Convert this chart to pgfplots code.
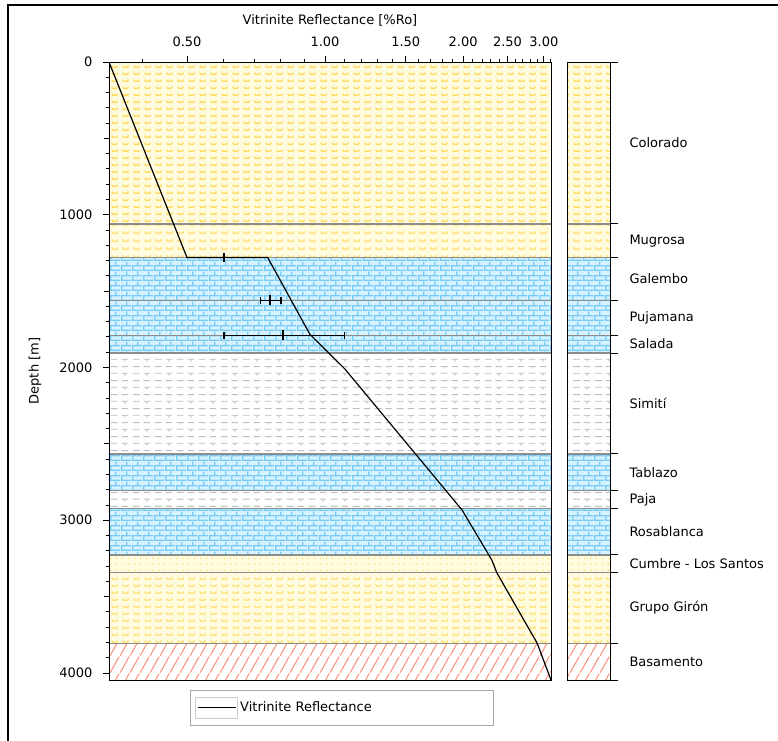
\documentclass[border=0pt]{standalone}
\usepackage{fontspec}
\setmainfont{DejaVu Sans}
\usepackage{pgfplots}
\pgfplotsset{compat=1.18}
\usetikzlibrary{patterns}

\definecolor{ybg}{RGB}{255,251,222}
\definecolor{ymk}{RGB}{255,216,85}
\definecolor{bbg}{RGB}{214,242,255}
\definecolor{bmk}{RGB}{118,204,246}
\definecolor{gmk}{RGB}{190,190,190}
\definecolor{rmk}{RGB}{250,145,125}
\definecolor{bnd}{RGB}{140,140,140}

\pgfdeclarepatternformonly{claystone}{\pgfpoint{0bp}{0bp}}{\pgfpoint{11bp}{7.4bp}}{\pgfpoint{11bp}{7.4bp}}{%
  \pgfsetlinewidth{1.2bp}%
  \pgfpathmoveto{\pgfpoint{2bp}{4.8bp}}%
  \pgfpathlineto{\pgfpoint{2.6bp}{3bp}}%
  \pgfpathlineto{\pgfpoint{7.4bp}{3bp}}%
  \pgfpathlineto{\pgfpoint{8bp}{4.8bp}}%
  \pgfusepath{stroke}}
\pgfdeclarepatternformonly{limestone}{\pgfpoint{0bp}{0bp}}{\pgfpoint{11bp}{10bp}}{\pgfpoint{11bp}{10bp}}{%
  \pgfsetlinewidth{1.4bp}%
  \pgfpathmoveto{\pgfpoint{0bp}{0.7bp}}\pgfpathlineto{\pgfpoint{11bp}{0.7bp}}%
  \pgfpathmoveto{\pgfpoint{0bp}{5.7bp}}\pgfpathlineto{\pgfpoint{11bp}{5.7bp}}%
  \pgfpathmoveto{\pgfpoint{0.7bp}{0.7bp}}\pgfpathlineto{\pgfpoint{0.7bp}{5.7bp}}%
  \pgfpathmoveto{\pgfpoint{6.2bp}{5.7bp}}\pgfpathlineto{\pgfpoint{6.2bp}{10bp}}%
  \pgfusepath{stroke}}
\pgfdeclarepatternformonly{shale}{\pgfpoint{0bp}{0bp}}{\pgfpoint{22bp}{14bp}}{\pgfpoint{22bp}{14bp}}{%
  \pgfsetlinewidth{1bp}%
  \pgfpathmoveto{\pgfpoint{1bp}{11bp}}\pgfpathlineto{\pgfpoint{8bp}{11bp}}%
  \pgfpathmoveto{\pgfpoint{12bp}{11bp}}\pgfpathlineto{\pgfpoint{19bp}{11bp}}%
  \pgfpathmoveto{\pgfpoint{1bp}{4bp}}\pgfpathlineto{\pgfpoint{8bp}{4bp}}%
  \pgfpathmoveto{\pgfpoint{12bp}{4bp}}\pgfpathlineto{\pgfpoint{19bp}{4bp}}%
  \pgfpathmoveto{\pgfpoint{15.5bp}{4bp}}\pgfpathlineto{\pgfpoint{15.5bp}{1.5bp}}%
  \pgfusepath{stroke}}
\pgfdeclarepatternformonly{sandstone}{\pgfpoint{0bp}{0bp}}{\pgfpoint{6bp}{6bp}}{\pgfpoint{6bp}{6bp}}{%
  \pgfpathcircle{\pgfpoint{3bp}{3bp}}{0.8bp}%
  \pgfusepath{fill}}
\pgfdeclarepatternformonly{basement}{\pgfpoint{0bp}{0bp}}{\pgfpoint{10bp}{17bp}}{\pgfpoint{10bp}{17bp}}{%
  \pgfsetlinewidth{1.1bp}%
  \pgfpathmoveto{\pgfpoint{0bp}{0bp}}\pgfpathlineto{\pgfpoint{10bp}{17bp}}%
  \pgfusepath{stroke}}

\tikzset{
  clay/.style={fill=ybg, postaction={pattern=claystone, pattern color=ymk}},
  lime/.style={fill=bbg, postaction={pattern=limestone, pattern color=bmk}},
  shl/.style={fill=white, postaction={pattern=shale, pattern color=gmk}},
  sand/.style={fill=ybg, postaction={pattern=sandstone, pattern color=ymk}},
  base/.style={fill=white, postaction={pattern=basement, pattern color=rmk}},
}

\newcommand\f{\fontsize{13bp}{15bp}\selectfont}
% one layer: xleft, xright, top, bottom, style
\newcommand\lay[5]{\addplot[forget plot, draw=none, #5] coordinates {(#1,#3) (#2,#3) (#2,#4) (#1,#4)} -- cycle;}
\newcommand\bline[3]{\addplot[forget plot, bnd, line width=1.3bp] coordinates {(#1,#3) (#2,#3)};}
\newcommand\alllayers[2]{%
  \lay{#1}{#2}{0}{1060}{clay}
  \lay{#1}{#2}{1060}{1280}{clay}
  \lay{#1}{#2}{1280}{1560}{lime}
  \lay{#1}{#2}{1560}{1790}{lime}
  \lay{#1}{#2}{1790}{1905}{lime}
  \lay{#1}{#2}{1905}{2566}{shl}
  \lay{#1}{#2}{2566}{2806}{lime}
  \lay{#1}{#2}{2806}{2922}{shl}
  \lay{#1}{#2}{2922}{3227}{lime}
  \lay{#1}{#2}{3227}{3343}{sand}
  \lay{#1}{#2}{3343}{3805}{clay}
  \lay{#1}{#2}{3805}{4046}{base}
  \bline{#1}{#2}{1060}
  \bline{#1}{#2}{1280}
  \bline{#1}{#2}{1560}
  \bline{#1}{#2}{1790}
  \bline{#1}{#2}{1905}
  \bline{#1}{#2}{2566}
  \bline{#1}{#2}{2806}
  \bline{#1}{#2}{2922}
  \bline{#1}{#2}{3227}
  \bline{#1}{#2}{3343}
  \bline{#1}{#2}{3805}
}

\begin{document}
\begin{tikzpicture}
\path[use as bounding box] (0bp,0bp) rectangle (778bp,741bp);
\fill[white] (0bp,0bp) rectangle (778bp,741bp);
\draw[black, line width=2.2bp] (8bp,0bp) -- (8bp,736bp) -- (778bp,736bp);

\begin{axis}[
  at={(109bp,61bp)}, anchor=south west,
  scale only axis, width=442bp, height=618bp,
  xmode=log, xmin=0.338, xmax=3.11,
  ymin=0, ymax=4046, y dir=reverse,
  axis on top,
  axis line style={black, line width=0.9bp},
  xtick pos=upper, xticklabel pos=upper,
  ytick pos=left,
  tick align=outside,
  xtick={0.5,1,1.5,2,2.5,3},
  xticklabels={0.50,1.00,1.50,2.00,2.50,3.00},
  minor xtick={0.4,0.6,0.7,0.8,0.9,1.1,1.2,1.3,1.4,1.6,1.7,1.8,1.9,2.1,2.2,2.3,2.4,2.6,2.7,2.8,2.9,3.1},
  ytick={0,1000,2000,3000,4000},
  yticklabels={0,1000,2000,3000,4000},
  minor y tick num=9,
  extra y ticks={500,1500,2500,3500}, extra y tick labels={},
  extra y tick style={major tick length=5bp},
  major tick length=6bp, minor tick length=3.5bp,
  every tick/.style={black, line width=0.9bp},
  /pgf/number format/assume math mode=true,
  ticklabel style={font=\f},
  xticklabel style={yshift=6bp},
  yticklabel style={xshift=-7bp},
  xlabel={Vitrinite Reflectance [\%Ro]},
  ylabel={Depth [m]},
  every axis x label/.style={at={(axis description cs:0.5,1)}, anchor=center, yshift=42bp, font=\f},
  every axis y label/.style={at={(axis description cs:-0.1674,0.5)}, anchor=center, rotate=90, font=\f},
  legend style={at={(axis description cs:0.1833,0)}, anchor=north west, yshift=-10bp,
    draw=gray!70, line width=0.8bp, inner xsep=5bp, inner ysep=6.5bp, font=\f,
    legend cell align=left},
  legend image code/.code={\draw[gray!40, fill=white, line width=0.8bp, solid] (0bp,-10.5bp) rectangle (42bp,10.5bp);
    \draw[black, line width=1.1bp, solid] (2bp,0bp) -- (40bp,0bp);},
]
\alllayers{0.3}{3.3}
\addplot[black, line width=1.2bp] coordinates {
  (0.338,0) (0.50,1280) (0.750,1280) (0.927,1783) (1.105,2010)
  (1.99,2933) (2.31,3260) (2.37,3345) (2.90,3804) (3.11,4046)};
\addlegendentry{\makebox[246bp][l]{Vitrinite Reflectance}}
\addplot[forget plot, black, line width=1.6bp, only marks, mark=|, mark size=4.5bp,
  error bars/.cd, x dir=both, x explicit, error mark=none,
  error bar style={line width=1.6bp, black}]
  coordinates {(0.602,1280) +- (0.012,0)};
\addplot[forget plot, black, line width=1.4bp, only marks, mark=|, mark size=5bp,
  error bars/.cd, x dir=both, x explicit, error mark=|,
  error bar style={line width=1.4bp, black},
  error mark options={black, mark size=3.5bp, line width=1.4bp}]
  coordinates {
  (0.759,1560) += (0.043,0) -= (0.036,0)
  (0.809,1790) += (0.292,0) -= (0.207,0)};
\end{axis}

\begin{axis}[
  at={(567bp,61bp)}, anchor=south west,
  scale only axis, width=43bp, height=618bp,
  xmin=0, xmax=1, ymin=0, ymax=4046, y dir=reverse,
  axis on top, clip=false,
  axis line style={black, line width=0.9bp},
  xtick=\empty,
  ytick={0,1060,1280,1560,1790,1905,2566,2806,2922,3227,3343,3805,4046},
  yticklabels={}, ytick pos=right, tick align=outside,
  major tick length=8bp,
  every tick/.style={black, line width=0.9bp},
]
\alllayers{0}{1}
\begin{scope}[every node/.style={anchor=west, font=\f, xshift=16bp}]
\node at (axis cs:1,530) {Colorado};
\node at (axis cs:1,1170) {Mugrosa};
\node at (axis cs:1,1420) {Galembo};
\node at (axis cs:1,1675) {Pujamana};
\node at (axis cs:1,1847) {Salada};
\node at (axis cs:1,2235) {Simití};
\node at (axis cs:1,2686) {Tablazo};
\node at (axis cs:1,2864) {Paja};
\node at (axis cs:1,3075) {Rosablanca};
\node at (axis cs:1,3285) {Cumbre - Los Santos};
\node at (axis cs:1,3574) {Grupo Girón};
\node at (axis cs:1,3925) {Basamento};
\end{scope}
\end{axis}
\end{tikzpicture}
\end{document}
